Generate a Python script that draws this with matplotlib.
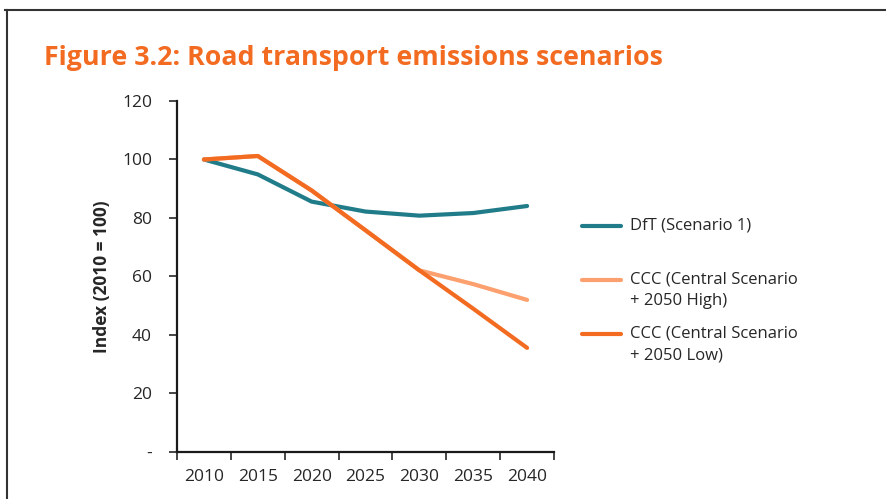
import matplotlib.pyplot as plt
from matplotlib.lines import Line2D

# data
years = ['2010', '2015', '2020', '2025', '2030', '2035', '2040']
dft = [100, 94.9, 85.6, 82.2, 80.8, 81.7, 84.1]
ccc_high = [100, 101.2, 89.4, 75.8, 62.1, 57.4, 52.0]
ccc_low = [100, 101.2, 89.4, 75.8, 62.1, 49.0, 35.6]

teal = '#217C8A'
light_orange = '#FBA06E'
orange = '#F26B21'
text_col = '#262626'

plt.rcParams['font.family'] = ['Open Sans', 'DejaVu Sans']

fig = plt.figure(figsize=(8.86, 4.99), dpi=100)
ax = fig.add_axes([0.1998, 0.0942, 0.4255, 0.7034])

x = range(len(years))
ax.plot(x, dft, color=teal, lw=3, solid_capstyle='round')
ax.plot(x, ccc_high, color=light_orange, lw=3, solid_capstyle='round')
ax.plot(x, ccc_low, color=orange, lw=3, solid_capstyle='round')

ax.set_xlim(-0.5, len(years) - 0.5)
ax.set_ylim(0, 120)
ax.set_yticks(range(0, 121, 20))
ax.set_yticklabels(['-'] + [str(v) for v in range(20, 121, 20)])
ax.set_xticks([i - 0.5 for i in range(len(years) + 1)])
ax.set_xticklabels([])
ax.set_xticks(list(x), minor=True)
ax.set_xticklabels(years, minor=True)
ax.tick_params(axis='x', which='major', length=6, width=1.2, color=text_col)
ax.tick_params(axis='x', which='minor', length=0, pad=12, labelsize=12.5, labelcolor=text_col)
ax.tick_params(axis='y', length=6, width=1.2, color=text_col, pad=12, labelsize=12.5, labelcolor=text_col)

for s in ['top', 'right']:
    ax.spines[s].set_visible(False)
for s in ['left', 'bottom']:
    ax.spines[s].set_linewidth(1.6)
    ax.spines[s].set_color('#1a1a1a')

ax.set_ylabel('Index (2010 = 100)', fontsize=12.5, fontweight='bold', color=text_col, labelpad=8)

fig.text(0.05, 0.883, 'Figure 3.2: Road transport emissions scenarios', fontsize=19.3,
         fontweight='bold', color=orange, va='center', ha='left')

# legend drawn by hand
leg = [(teal, ['DfT (Scenario 1)'], 226),
       (light_orange, ['CCC (Central Scenario', '+ 2050 High)'], 280),
       (orange, ['CCC (Central Scenario', '+ 2050 Low)'], 334)]
for col, lines, ypix in leg:
    yf = 1 - ypix / 499
    fig.add_artist(Line2D([582 / 886, 621 / 886], [yf, yf], color=col, lw=3,
                          solid_capstyle='round', transform=fig.transFigure))
    for k, t in enumerate(lines):
        fig.text(630 / 886, 1 - (ypix + k * 21) / 499, t, fontsize=12,
                 color=text_col, va='center', ha='left')

# frame lines around the figure
fig.add_artist(Line2D([5 / 886, 1], [1 - 10 / 499, 1 - 10 / 499], color='#333333', lw=1.5,
                      transform=fig.transFigure))
fig.add_artist(Line2D([7 / 886, 7 / 886], [0, 1 - 10 / 499], color='#333333', lw=1.5,
                      transform=fig.transFigure))

fig.savefig('out.png', dpi=100)
